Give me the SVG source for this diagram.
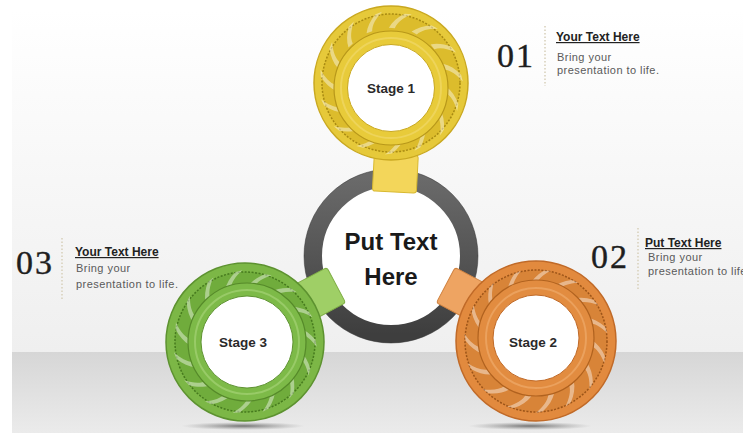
<svg xmlns="http://www.w3.org/2000/svg" xmlns:xlink="http://www.w3.org/1999/xlink" width="743" height="433" viewBox="0 0 743 433">
<defs>
<style>
.num{font-family:"Liberation Serif","Times New Roman",serif;font-size:34px;fill:#1e1e1e;letter-spacing:2px;stroke:#1e1e1e;stroke-width:0.4}
.hd{font-family:"Liberation Sans",Arial,sans-serif;font-size:12px;font-weight:bold;fill:#222;text-decoration:underline}
.bd{font-family:"Liberation Sans",Arial,sans-serif;font-size:11px;fill:#5a5a5a;letter-spacing:0.45px}
.stg{font-family:"Liberation Sans",Arial,sans-serif;font-size:13.5px;font-weight:bold;fill:#2a2a2a;text-anchor:middle}
.ctr{font-family:"Liberation Sans",Arial,sans-serif;font-size:24px;font-weight:bold;fill:#1a1a1a;text-anchor:middle}
.dots{stroke:#d9d2bd;stroke-width:1.6;stroke-dasharray:1.5 2}
.streaks{fill:#fff;opacity:0.42}
.white{fill:#fff}
</style>
<linearGradient id="bgTop" x1="0" y1="0" x2="0" y2="1">
<stop offset="0" stop-color="#ffffff"/>
<stop offset="1" stop-color="#efefef"/>
</linearGradient>
<linearGradient id="bgFloor" x1="0" y1="0" x2="0" y2="1">
<stop offset="0" stop-color="#d6d6d6"/>
<stop offset="1" stop-color="#ebebeb"/>
</linearGradient>
<linearGradient id="grayRing" x1="0" y1="0" x2="0" y2="1">
<stop offset="0" stop-color="#6a6a6a"/>
<stop offset="0.5" stop-color="#555"/>
<stop offset="1" stop-color="#3e3e3e"/>
</linearGradient>
<radialGradient id="shadow" cx="0.5" cy="0.5" r="0.5">
<stop offset="0" stop-color="#555" stop-opacity="0.8"/>
<stop offset="1" stop-color="#888" stop-opacity="0"/>
</radialGradient>
<path id="st" d="M55,-6 C61,-3 66,2 70,9 L70,16 C66,8 61,2 55,0 Z"/>
<g id="swirl">
<use xlink:href="#st"/>
<use xlink:href="#st" transform="rotate(24)"/>
<use xlink:href="#st" transform="rotate(48)"/>
<use xlink:href="#st" transform="rotate(72)"/>
<use xlink:href="#st" transform="rotate(96)"/>
<use xlink:href="#st" transform="rotate(120)"/>
<use xlink:href="#st" transform="rotate(144)"/>
<use xlink:href="#st" transform="rotate(168)"/>
<use xlink:href="#st" transform="rotate(192)"/>
<use xlink:href="#st" transform="rotate(216)"/>
<use xlink:href="#st" transform="rotate(240)"/>
<use xlink:href="#st" transform="rotate(264)"/>
<use xlink:href="#st" transform="rotate(288)"/>
<use xlink:href="#st" transform="rotate(312)"/>
<use xlink:href="#st" transform="rotate(336)"/>
</g>
</defs>

<!-- background -->
<rect x="0" y="0" width="743" height="433" fill="#ffffff"/>
<rect x="12" y="10" width="731" height="342" fill="url(#bgTop)"/>
<rect x="12" y="352" width="731" height="81" fill="url(#bgFloor)"/>
<ellipse cx="243" cy="426" rx="62" ry="4" fill="url(#shadow)"/>
<ellipse cx="530" cy="426" rx="62" ry="4" fill="url(#shadow)"/>

<!-- center node -->
<g id="center">
<circle cx="391" cy="256" r="78" fill="#fff" stroke="url(#grayRing)" stroke-width="18"/>
<circle cx="391" cy="256" r="87" fill="none" stroke="#333" stroke-width="1" opacity="0.5"/>
<text class="ctr" x="391" y="250">Put Text</text>
<text class="ctr" x="391" y="285">Here</text>
</g>

<!-- connectors (tabs) -->
<g id="connectors">
<rect x="64" y="-22" width="38" height="44" rx="3" fill="#f3d65a" stroke="#d8b930" stroke-width="1" transform="translate(391,256) rotate(-87)"/>
<rect x="62" y="-20" width="38" height="40" rx="3" fill="#eea462" stroke="#cf8240" stroke-width="1" transform="translate(391,256) rotate(28)"/>
<rect x="62" y="-20" width="38" height="40" rx="3" fill="#9fcf66" stroke="#7fae45" stroke-width="1" transform="translate(391,256) rotate(152)"/>
</g>

<!-- stage 1 -->
<g id="stage1" transform="translate(391,83)">
<circle r="77" fill="#e6c93a" stroke="#c9a820" stroke-width="1.5"/>
<circle r="69" fill="#dcbc2c"/>
<circle r="69" fill="none" stroke="#a88a12" stroke-width="1.5" stroke-dasharray="2 1.5"/>
<use xlink:href="#swirl" class="streaks" transform="rotate(10)"/>
<circle cx="0" cy="5" r="57" fill="#e8cb3a" stroke="#b8981a" stroke-width="1.2"/>
<circle cx="0" cy="5" r="50" fill="none" stroke="#f3de7a" stroke-width="2" opacity="0.5"/>
<circle cx="0" cy="5" r="43.5" class="white" stroke="#c9a820" stroke-width="1"/>
<text class="stg" x="0" y="10">Stage 1</text>
</g>

<!-- stage 2 -->
<g id="stage2" transform="translate(536,341)">
<circle r="80" fill="#e28a3e" stroke="#c06a28" stroke-width="1.5"/>
<circle r="71" fill="#d88438"/>
<circle r="71" fill="none" stroke="#9c5418" stroke-width="1.5" stroke-dasharray="2 1.5"/>
<use xlink:href="#swirl" class="streaks" transform="rotate(5)"/>
<circle cx="0" cy="-3" r="58" fill="#e28c40" stroke="#b0621f" stroke-width="1.2"/>
<circle cx="0" cy="-3" r="50" fill="none" stroke="#f3b57a" stroke-width="2" opacity="0.5"/>
<circle cx="0" cy="-3" r="43" class="white" stroke="#c06a28" stroke-width="1"/>
<text class="stg" x="-3" y="6">Stage 2</text>
</g>

<!-- stage 3 -->
<g id="stage3" transform="translate(245,342)">
<circle r="79" fill="#7cb746" stroke="#5d9230" stroke-width="1.5"/>
<circle r="70" fill="#70ac3c"/>
<circle r="70" fill="none" stroke="#467a1e" stroke-width="1.5" stroke-dasharray="2 1.5"/>
<use xlink:href="#swirl" class="streaks" transform="rotate(15)"/>
<circle cx="2" cy="0" r="59" fill="#7dba48" stroke="#568a2a" stroke-width="1.2"/>
<circle cx="2" cy="0" r="52" fill="none" stroke="#b4dc86" stroke-width="2" opacity="0.5"/>
<circle cx="2" cy="0" r="46" class="white" stroke="#5d9230" stroke-width="1"/>
<text class="stg" x="-2" y="5">Stage 3</text>
</g>

<!-- text blocks -->
<g id="label01">
<text class="num" x="497" y="67">01</text>
<line class="dots" x1="545" y1="26" x2="545" y2="86"/>
<text class="hd" x="556" y="41">Your Text Here</text>
<text class="bd" x="557" y="61">Bring your</text>
<text class="bd" x="557" y="74">presentation to life.</text>
</g>
<g id="label02">
<text class="num" x="591" y="268">02</text>
<line class="dots" x1="638" y1="228" x2="638" y2="290"/>
<text class="hd" x="645" y="247">Put Text Here</text>
<text class="bd" x="648" y="261">Bring your</text>
<text class="bd" x="648" y="275">presentation to life.</text>
</g>
<g id="label03">
<text class="num" x="16" y="274">03</text>
<line class="dots" x1="62" y1="238" x2="62" y2="300"/>
<text class="hd" x="75" y="256">Your Text Here</text>
<text class="bd" x="76" y="272">Bring your</text>
<text class="bd" x="76" y="288">presentation to life.</text>
</g>
</svg>
